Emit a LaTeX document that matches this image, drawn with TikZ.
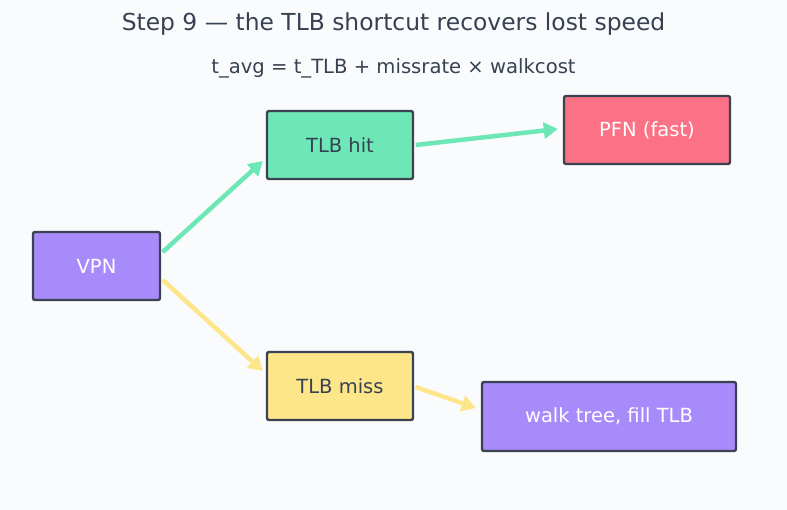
\documentclass[tikz,border=0pt]{standalone}
\usepackage{fontspec}
\setmainfont{DejaVu Sans}
\usetikzlibrary{arrows.meta,calc}
\definecolor{bg}{HTML}{FAFBFD}
\definecolor{ink}{HTML}{374151}
\definecolor{edge}{HTML}{3B4252}
\definecolor{violet}{HTML}{A78BFA}
\definecolor{mint}{HTML}{6EE7B7}
\definecolor{rose}{HTML}{FB7185}
\definecolor{amber}{HTML}{FDE68A}
\tikzset{
  box/.style={draw=edge, line width=2.4pt, rounded corners=2pt, inner sep=0pt, font=\fontsize{19.5}{22}\selectfont},
  conn/.style={line width=4.5pt, -{Triangle[length=14pt,width=16pt]}},
}
\begin{document}
\begin{tikzpicture}[x=1pt,y=-1pt]
\fill[bg] (0,0) rectangle (787,510);
\useasboundingbox (0,0) rectangle (787,510);
\node[text=ink, font=\fontsize{23.4}{26}\selectfont] (title) at (393.5,24) {Step 9 — the TLB shortcut recovers lost speed};
\node[text=ink, font=\fontsize{19.6}{22}\selectfont] (sub) at (393.5,68) {t\_avg = t\_TLB + missrate × walkcost};
\node[box, fill=violet, text=white, minimum width=127pt, minimum height=68pt] (vpn) at (96.5,266) {VPN};
\node[box, fill=mint, text=ink, minimum width=146pt, minimum height=68pt] (hit) at (340,145) {TLB hit};
\node[box, fill=rose, text=white, minimum width=166pt, minimum height=68pt] (pfn) at (647,130) {PFN (fast)};
\node[box, fill=amber, text=ink, minimum width=146pt, minimum height=68pt] (miss) at (340,386) {TLB miss};
\node[box, fill=violet, text=white, minimum width=254pt, minimum height=69pt] (walk) at (609,416.5) {walk tree, fill TLB};
\draw[conn, mint] ($(vpn.east)+(1.5,-14)$) -- ($(hit.west)+(-3,16)$);
\draw[conn, amber] ($(vpn.east)+(1.5,14)$) -- ($(miss.west)+(-3,-15)$);
\draw[conn, mint] ($(hit.east)+(1.5,0)$) -- ($(pfn.west)+(-5,-1)$);
\draw[conn, amber] ($(miss.east)+(1.5,1)$) -- ($(walk.west)+(-5,-8.5)$);
\end{tikzpicture}
\end{document}
